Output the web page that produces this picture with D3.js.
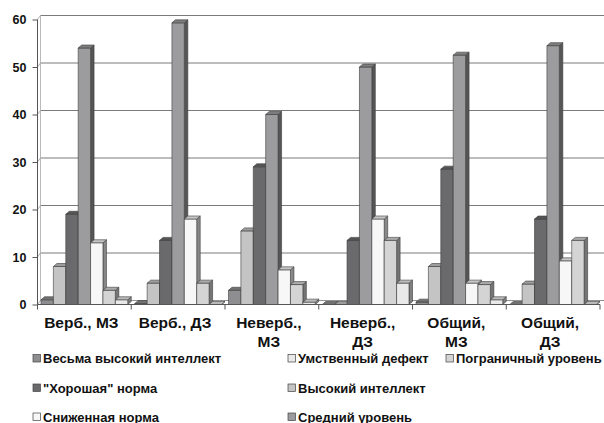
<!DOCTYPE html>
<html><head><meta charset="utf-8">
<script src="https://cdn.jsdelivr.net/npm/d3@7"></script>
<style>
html,body{margin:0;padding:0;background:#fff;overflow:hidden;}
svg text{font-family:"Liberation Sans",Arial,sans-serif;font-weight:bold;fill:#111;}
</style></head>
<body>
<svg id="chart" width="604" height="423"></svg>
<script>
// ---- data ----
const categories = ["Верб., МЗ", "Верб., ДЗ", "Неверб., МЗ", "Неверб., ДЗ", "Общий, МЗ", "Общий, ДЗ"];
const seriesNames = ["Весьма высокий интеллект", "Высокий интеллект", "\"Хорошая\" норма", "Средний уровень", "Сниженная норма", "Пограничный уровень", "Умственный дефект"];
const vesmaVysokiy   = [1,   0.2, 3,   0,   0.5,  0];
const vysokiy        = [8,   4.5, 15.5,0,   8,    4.3];
const khoroshaya     = [19,  13.5,29,  13.5,28.5, 18];
const sredniy        = [54,  59.3,40,  50,  52.5, 54.5];
const snizhennaya    = [13,  18,  7.3, 18,  4.5,  9.2];
const pogranichnyy   = [3,   4.5, 4.2, 13.5,4.2,  13.5];
const umstvennyy     = [1,   0,   0.5, 4.5, 1,    0];
const seriesValues = [vesmaVysokiy, vysokiy, khoroshaya, sredniy, snizhennaya, pogranichnyy, umstvennyy];
const yTicks = [0, 10, 20, 30, 40, 50, 60];
// legend arrangement (as shown in the reference: row-by-row)
const legendOrder = [
  ["Весьма высокий интеллект", "Умственный дефект", "Пограничный уровень"],
  ["\"Хорошая\" норма", "Высокий интеллект"],
  ["Сниженная норма", "Средний уровень"]
];

// ---- styling ----
const colors = ["#8e8e90", "#c4c4c4", "#6a6a6c", "#9c9c9e", "#f7f7f7", "#d4d4d4", "#e9e9e9"];

const svg = d3.select("#chart");
const X0 = 37.5, X1 = 600, Y0 = 304.5, Y1 = 19.5;
const wallDx = 3, wallDy = -4;
const barDx = 3.5, barDy = -3;

const x = d3.scaleBand().domain(categories).range([X0, X1]).paddingInner(0).paddingOuter(0);
const inner = d3.scaleBand().domain(d3.range(seriesNames.length)).range([3.5, x.bandwidth() - 3.5]).padding(0);
const y = d3.scaleLinear().domain([0, 60]).range([Y0, Y1]);

// back wall gridlines
const grid = svg.append("g");
grid.selectAll("line.g").data(yTicks).join("line")
  .attr("x1", X0 + wallDx).attr("x2", X1 + wallDx + 2)
  .attr("y1", d => y(d) + wallDy).attr("y2", d => y(d) + wallDy)
  .attr("stroke", "#7a7a7a").attr("stroke-width", 1);
grid.selectAll("line.s").data(yTicks).join("line")
  .attr("x1", X0).attr("x2", X0 + wallDx)
  .attr("y1", d => y(d)).attr("y2", d => y(d) + wallDy)
  .attr("stroke", "#999").attr("stroke-width", 0.8);
grid.append("line").attr("x1", X0 + wallDx).attr("x2", X0 + wallDx)
  .attr("y1", y(0) + wallDy).attr("y2", y(60) + wallDy)
  .attr("stroke", "#aaa").attr("stroke-width", 0.8);
grid.append("line").attr("x1", X0 + wallDx).attr("x2", X1 + wallDx)
  .attr("y1", y(0) + wallDy).attr("y2", y(0) + wallDy)
  .attr("stroke", "#999").attr("stroke-width", 0.8);

// bars
function shade(c, k) { const h = d3.rgb(c); return d3.rgb(h.r * k, h.g * k, h.b * k).toString(); }
const bars = svg.append("g");
categories.forEach((cat, gi) => {
  seriesValues.forEach((vals, si) => {
    const v = vals[gi];
    const xl = x(cat) + inner(si), w = inner.bandwidth();
    const yt = y(v), yb = y(0);
    const g = bars.append("g").attr("stroke", "#3c3c3c").attr("stroke-width", 0.6).attr("stroke-linejoin", "round");
    g.append("path").attr("d", `M${xl + w},${yb}L${xl + w + barDx},${yb + barDy}L${xl + w + barDx},${yt + barDy}L${xl + w},${yt}Z`)
      .attr("fill", shade(colors[si], 0.55));
    if (yb - yt > 0.3) g.append("rect").attr("x", xl).attr("y", yt).attr("width", w).attr("height", yb - yt)
      .attr("fill", colors[si]);
    g.append("path").attr("d", `M${xl},${yt}L${xl + w},${yt}L${xl + w + barDx},${yt + barDy}L${xl + barDx},${yt + barDy}Z`)
      .attr("fill", shade(colors[si], 0.8));
  });
});

// front axes
const ax = svg.append("g");
ax.append("line").attr("x1", X0).attr("x2", X0).attr("y1", y(0)).attr("y2", y(60)).attr("stroke", "#555").attr("stroke-width", 1);
ax.append("line").attr("x1", X0).attr("x2", X1).attr("y1", y(0)).attr("y2", y(0)).attr("stroke", "#555").attr("stroke-width", 1);
const yAxis = d3.axisLeft(y).tickValues(yTicks).tickSize(5).tickPadding(6);
const ya = svg.append("g").attr("transform", `translate(${X0},0)`).call(yAxis);
ya.select(".domain").remove();
ya.selectAll(".tick line").attr("stroke", "#555");
ya.selectAll("text").style("font-size", "12.5px").style("font-family", "Liberation Sans, Arial, sans-serif").style("font-weight", "bold").attr("fill", "#111");
svg.append("g").selectAll("line").data(d3.range(categories.length + 1)).join("line")
  .attr("x1", d => X0 + d * x.step()).attr("x2", d => X0 + d * x.step())
  .attr("y1", y(0)).attr("y2", y(0) + 5).attr("stroke", "#555");

// category labels with wrapping
const catG = svg.append("g");
categories.forEach(cat => {
  const cx = x(cat) + x.bandwidth() / 2 - 3;
  const t = catG.append("text").attr("x", cx).attr("y", 327.5)
    .attr("text-anchor", "middle").style("font-size", "15.5px");
  t.text(cat);
  if (t.node().getComputedTextLength() > 78) {
    const parts = cat.split(" ");
    t.text(null);
    t.append("tspan").attr("x", cx).attr("dy", 0).text(parts.slice(0, -1).join(" "));
    t.append("tspan").attr("x", cx).attr("dy", 19.5).text(parts[parts.length - 1]);
  }
});

// legend
const legendCols = [33, 288, 446];
const legendRows = [363, 392.5, 421.5];
const leg = svg.append("g");
legendOrder.forEach((row, ri) => {
  row.forEach((name, ci) => {
    const si = seriesNames.indexOf(name);
    const gx = legendCols[ci], gy = legendRows[ri];
    leg.append("rect").attr("x", gx).attr("y", gy - 8.5).attr("width", 7.5).attr("height", 7.5)
      .attr("fill", colors[si]).attr("stroke", "#444").attr("stroke-width", 0.7);
    leg.append("text").attr("x", gx + 10).attr("y", gy).style("font-size", "13px").text(name);
  });
});
</script>
</body></html>
